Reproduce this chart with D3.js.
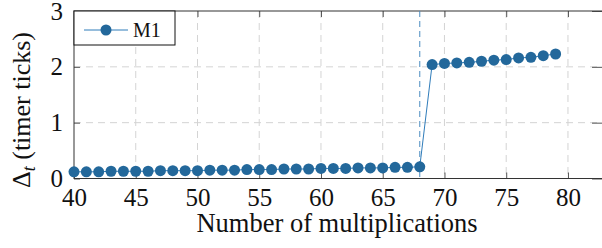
<!DOCTYPE html>
<html>
<head>
<meta charset="utf-8">
<script src="https://cdn.jsdelivr.net/npm/d3@7"></script>
<style>
  body { margin: 0; background: #fff; }
</style>
</head>
<body>
<div id="graph"></div>
<script>
// chart data
var mults = d3.range(40, 80);
var deltaM1 = [0.12, 0.12, 0.12, 0.13, 0.13, 0.13, 0.13, 0.14, 0.14, 0.14,
               0.14, 0.15, 0.15, 0.15, 0.16, 0.16, 0.16, 0.17, 0.17, 0.17,
               0.18, 0.18, 0.18, 0.19, 0.19, 0.19, 0.20, 0.20, 0.21,
               2.04, 2.06, 2.07, 2.08, 2.10, 2.12, 2.13, 2.16, 2.17, 2.20, 2.23];
var xTicks = [40, 45, 50, 55, 60, 65, 70, 75, 80];
var yTicks = [0, 1, 2, 3];
var markLine = 68;
var seriesName = "M1";

var SVGwidth = 602, SVGheight = 248;
var plotL = 74, plotR = 605, plotT = 11, plotB = 178.5;
var blue = "#23689b";
var serif = "Liberation Serif";

var svg = d3.select("div#graph").append("svg")
    .attr("width", SVGwidth)
    .attr("height", SVGheight);

var x = d3.scaleLinear().domain([40, 83]).range([plotL, plotR]);
var y = d3.scaleLinear().domain([0, 3]).range([plotB, plotT]);

var data = mults.map(function(m, i) { return {x: m, y: deltaM1[i]}; });

// grid
svg.append("g").selectAll("line")
    .data(xTicks.filter(function(d) { return d > 40; }))
    .enter().append("line")
    .attr("x1", function(d) { return x(d); }).attr("x2", function(d) { return x(d); })
    .attr("y1", plotT).attr("y2", plotB)
    .attr("stroke", "#d4d4d4").attr("stroke-dasharray", "7,5");

svg.append("g").selectAll("line")
    .data([1, 2])
    .enter().append("line")
    .attr("y1", function(d) { return y(d); }).attr("y2", function(d) { return y(d); })
    .attr("x1", plotL).attr("x2", plotR)
    .attr("stroke", "#d4d4d4").attr("stroke-dasharray", "7,5");

function styleAxis(g) {
  g.select(".domain").remove();
  g.selectAll("line").attr("stroke", "#555");
  g.selectAll("text")
    .attr("font-family", serif)
    .attr("font-size", 25)
    .attr("fill", "#111");
}

// axes (ticks inside, like pgfplots)
svg.append("g")
    .attr("transform", "translate(0," + plotB + ")")
    .call(d3.axisBottom(x).tickValues(xTicks).tickSize(-6).tickPadding(10).tickFormat(d3.format("d")))
    .call(styleAxis);

svg.append("g")
    .attr("transform", "translate(0," + plotT + ")")
    .call(d3.axisTop(x).tickValues(xTicks).tickSize(-6).tickFormat(""))
    .call(styleAxis);

svg.append("g")
    .attr("transform", "translate(" + plotL + ",0)")
    .call(d3.axisLeft(y).tickValues(yTicks).tickSize(-6).tickPadding(11).tickFormat(d3.format("d")))
    .call(styleAxis);

svg.append("g")
    .attr("transform", "translate(" + plotR + ",0)")
    .call(d3.axisRight(y).tickValues(yTicks).tickSize(-13).tickFormat(""))
    .call(styleAxis);

// frame
svg.append("rect")
    .attr("x", plotL).attr("y", plotT)
    .attr("width", plotR - plotL).attr("height", plotB - plotT)
    .attr("fill", "none").attr("stroke", "#333").attr("stroke-width", 1);

// vertical marker
svg.append("line")
    .attr("x1", x(markLine)).attr("x2", x(markLine))
    .attr("y1", plotT).attr("y2", plotB)
    .attr("stroke", "#4a8cc0").attr("stroke-width", 1)
    .attr("stroke-dasharray", "6,4");

// series
var line = d3.line()
    .x(function(d) { return x(d.x); })
    .y(function(d) { return y(d.y); });

svg.append("path")
    .datum(data)
    .attr("fill", "none")
    .attr("stroke", "#2f7cba")
    .attr("stroke-width", 1)
    .attr("d", line);

svg.append("g").selectAll("circle")
    .data(data)
    .enter().append("circle")
    .attr("cx", function(d) { return x(d.x); })
    .attr("cy", function(d) { return y(d.y); })
    .attr("r", 5.5)
    .attr("fill", blue);

// legend
var legend = svg.append("g");
legend.append("rect")
    .attr("x", plotL).attr("y", plotT)
    .attr("width", 101).attr("height", 34)
    .attr("fill", "#fff").attr("stroke", "#111").attr("stroke-width", 1);
legend.append("line")
    .attr("x1", 84).attr("x2", 128).attr("y1", 30).attr("y2", 30)
    .attr("stroke", "#2f7cba").attr("stroke-width", 1);
legend.append("circle")
    .attr("cx", 106).attr("cy", 30).attr("r", 5.5).attr("fill", blue);
legend.append("text")
    .attr("x", 133).attr("y", 37)
    .attr("font-family", serif)
    .attr("font-size", 20)
    .attr("fill", "#111")
    .text(seriesName);

// axis labels
svg.append("text")
    .attr("x", 337).attr("y", 232)
    .attr("text-anchor", "middle")
    .attr("font-family", serif)
    .attr("font-size", 26.5)
    .attr("fill", "#111")
    .text("Number of multiplications");

var yl = svg.append("text")
    .attr("transform", "translate(30,110) rotate(-90)")
    .attr("text-anchor", "middle")
    .attr("font-family", serif)
    .attr("font-size", 26)
    .attr("fill", "#111");
yl.append("tspan").attr("font-family", serif).text("Δ");
yl.append("tspan").attr("font-family", serif).attr("font-style", "italic").attr("font-size", 18).attr("dy", 5).text("t");
yl.append("tspan").attr("font-family", serif).attr("dy", -5).text(" (timer ticks)");
</script>
</body>
</html>
